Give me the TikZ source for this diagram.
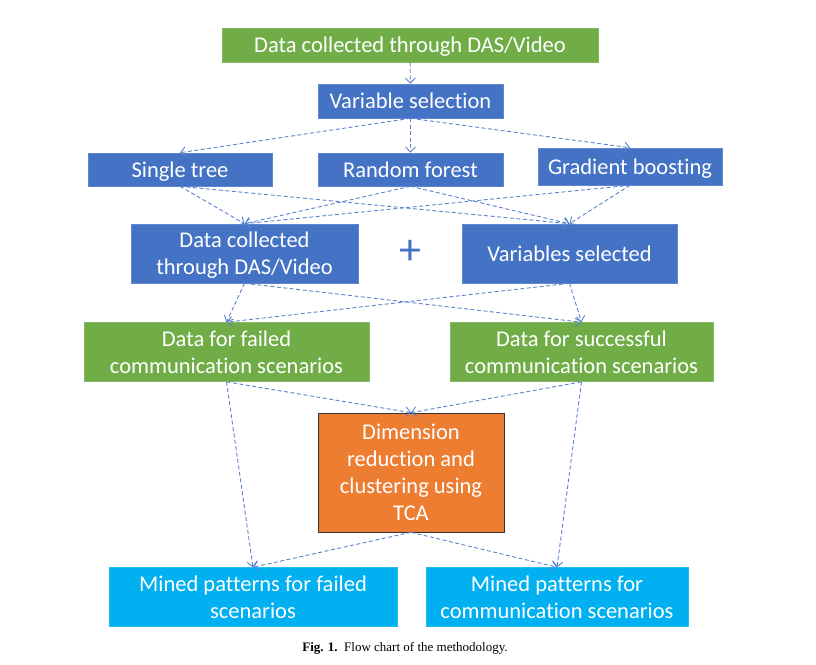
\documentclass[tikz,border=0pt]{standalone}
\usepackage{fontspec}
\setmainfont[Ligatures=NoCommon]{Carlito}
\newfontfamily\capfont{Liberation Serif}
\usetikzlibrary{arrows.meta}
\definecolor{boxgreen}{RGB}{112,173,71}
\definecolor{boxblue}{RGB}{68,114,196}
\definecolor{boxorange}{RGB}{237,125,49}
\definecolor{boxcyan}{RGB}{0,176,240}
\definecolor{linkblue}{RGB}{90,130,205}
\begin{document}
\begin{tikzpicture}[x=1pt,y=-1pt,
  box/.style={rectangle, inner sep=0pt, align=center, text=white, text depth=0pt,
    font=\fontsize{22.5}{27}\selectfont, draw=#1!85!white, fill=#1, line width=0.6pt},
  link/.style={draw=linkblue, dashed, dash pattern=on 4pt off 2.5pt, line width=0.9pt,
    -{Straight Barb[length=5pt,width=10pt]}}]
\useasboundingbox (0,0) rectangle (816,664);
\node[box=boxgreen, minimum width=376pt, minimum height=34pt] (collect) at (410,45){Data collected through DAS/Video};
\node[box=boxblue, minimum width=185pt, minimum height=34pt] (varsel) at (410.5,101){Variable selection};
\node[box=boxblue, minimum width=184pt, minimum height=33pt] (single) at (180,169.5){Single tree};
\node[box=boxblue, minimum width=185pt, minimum height=33pt] (forest) at (410.5,169.5){Random forest};
\node[box=boxblue, minimum width=184pt, minimum height=37pt] (boost) at (630,166.5){Gradient boosting};
\draw[link](collect) -- (varsel);
\draw[link](varsel.south) -- (single.north);
\draw[link](varsel.south) -- (forest.north);
\draw[link](varsel.south) -- (boost.north);
\node[box=boxblue, minimum width=227pt, minimum height=59pt] (dasdata) at (244.5,253.5){Data collected\\through DAS/Video};
\node[text=boxblue, inner sep=0pt, font=\fontsize{44}{44}\selectfont] (plus) at (410,252){+};
\node[box=boxblue, minimum width=215pt, minimum height=59pt] (chosen) at (569.5,253.5){Variables selected};
\draw[link](single.south) -- (dasdata.north);
\draw[link](single.south) -- (chosen.north);
\draw[link](forest.south) -- (dasdata.north);
\draw[link](forest.south) -- (chosen.north);
\draw[link](boost.south) -- (dasdata.north);
\draw[link](boost.south) -- (chosen.north);
\node[box=boxgreen, minimum width=285pt, minimum height=59pt] (failed) at (226.5,352){Data for failed\\communication scenarios};
\node[box=boxgreen, minimum width=263pt, minimum height=59pt] (success) at (581.5,352){Data for successful\\communication scenarios};
\draw[link](dasdata.south) -- (failed.north);
\draw[link](dasdata.south) -- (success.north);
\draw[link](chosen.south) -- (failed.north);
\draw[link](chosen.south) -- (success.north);
\node[box=boxorange, draw=black!80, minimum width=186pt, minimum height=119pt] (tca) at (411,472.5){Dimension\\reduction and\\clustering using\\TCA};
\draw[link](failed.south) -- (tca.north);
\draw[link](success.south) -- (tca.north);
\node[box=boxcyan, minimum width=288pt, minimum height=59pt] (minedfail) at (253,597){Mined patterns for failed\\scenarios};
\node[box=boxcyan, minimum width=262pt, minimum height=59pt] (minedcomm) at (557,597){Mined patterns for\\communication scenarios};
\draw[link](failed.south) -- (minedfail.north);
\draw[link](success.south) -- (minedcomm.north);
\draw[link](tca.south) -- (minedfail.north);
\draw[link](tca.south) -- (minedcomm.north);
\node[font=\capfont\fontsize{13}{15}\selectfont, inner sep=0pt] (caption) at (405,648){\textbf{Fig. 1.}\enspace Flow chart of the methodology.};
\end{tikzpicture}
\end{document}
